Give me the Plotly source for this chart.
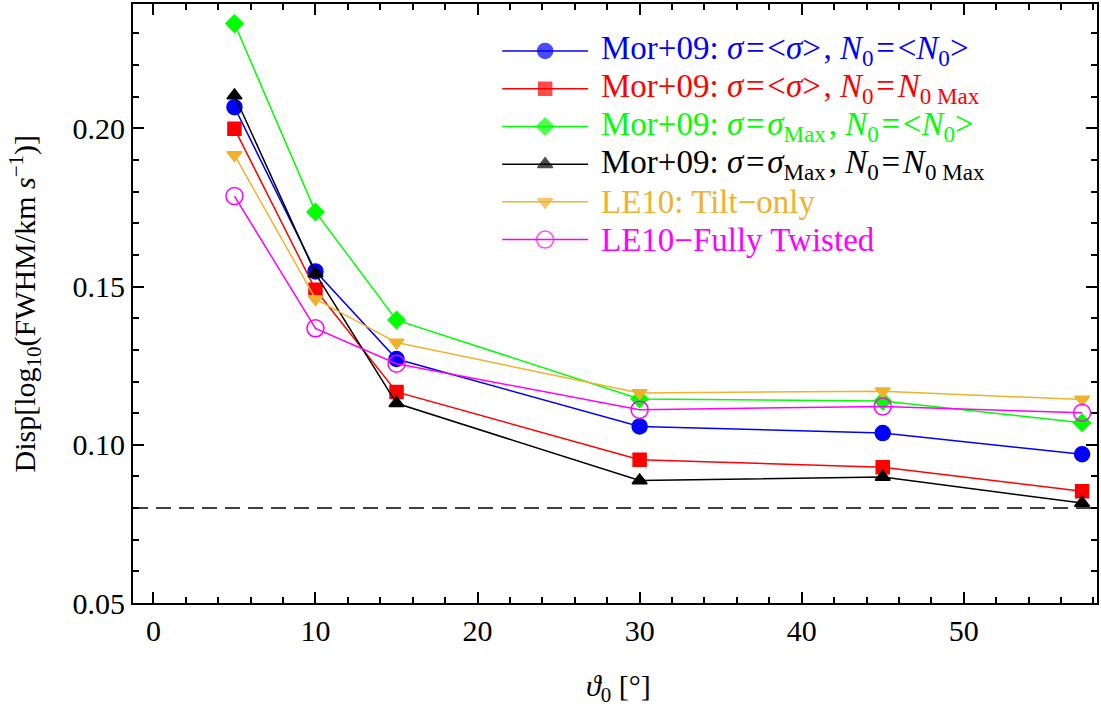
import plotly.graph_objects as go

# Opening angle theta_0 (degrees) at which each model was evaluated
theta0 = [5, 10, 15, 30, 45, 57.3]

# Dispersion of log10(FWHM / km s^-1) for each model
mor_mean_mean = [0.2067, 0.1548, 0.1271, 0.1058, 0.1037, 0.0970]
mor_mean_max = [0.1999, 0.1490, 0.1167, 0.0953, 0.0929, 0.0853]
mor_max_mean = [0.2331, 0.1736, 0.1394, 0.1145, 0.1138, 0.1070]
mor_max_max = [0.2104, 0.1541, 0.1131, 0.0887, 0.0898, 0.0816]
le10_tilt = [0.1916, 0.1461, 0.1323, 0.1164, 0.1169, 0.1143]
le10_twist = [0.1786, 0.1368, 0.1256, 0.1111, 0.1121, 0.1101]

# Observed reference dispersion
observed_disp = 0.08

FONT = "Liberation Serif"
ORANGE = "#EFB22C"

HS = "\u200a"          # hair space used around relation signs
EQ = HS + "=" + HS
CM = HS + ", "

series = [
    dict(y=mor_mean_mean, color="#0000FF", symbol="circle", size=15,
         label=f"Mor+09: <i>σ</i>{EQ}&lt;<i>σ</i>&gt;{CM}<i>N</i><sub>0</sub>{EQ}&lt;<i>N</i><sub>0</sub>&gt;"),
    dict(y=mor_mean_max, color="#FF0000", symbol="square", size=13,
         label=f"Mor+09: <i>σ</i>{EQ}&lt;<i>σ</i>&gt;{CM}<i>N</i><sub>0</sub>{EQ}<i>N</i><sub>0 Max</sub>"),
    dict(y=mor_max_mean, color="#00FF00", symbol="diamond", size=13,
         label=f"Mor+09: <i>σ</i>{EQ}<i>σ</i><sub>Max</sub>{CM}<i>N</i><sub>0</sub>{EQ}&lt;<i>N</i><sub>0</sub>&gt;"),
    dict(y=mor_max_max, color="#000000", symbol="triangle-up", size=13,
         label=f"Mor+09: <i>σ</i>{EQ}<i>σ</i><sub>Max</sub>{CM}<i>N</i><sub>0</sub>{EQ}<i>N</i><sub>0 Max</sub>"),
    dict(y=le10_tilt, color=ORANGE, symbol="triangle-down", size=13,
         label="LE10: Tilt−only"),
    dict(y=le10_twist, color="#FF00FF", symbol="circle-open", size=17,
         label="LE10−Fully Twisted"),
]

fig = go.Figure()

for s in series:
    fig.add_trace(go.Scatter(
        x=theta0, y=s["y"], mode="lines+markers",
        line=dict(color=s["color"], width=1.5),
        marker=dict(symbol=s["symbol"], size=s["size"], color=s["color"],
                    line=dict(color=s["color"], width=1.5)),
        showlegend=False,
    ))

# Dashed horizontal reference level
fig.add_shape(type="line", xref="x domain", yref="y", x0=0, x1=1,
              y0=observed_disp, y1=observed_disp,
              line=dict(color="black", width=1.5, dash="15px,8px"))

# Hand-built legend on a pixel-like overlay axis (long sample lines)
LEG_X0, LEG_X1, LEG_MX, LEG_TX = 503, 589, 546, 600
LEG_Y0, LEG_DY = 50, 37.8
for i, s in enumerate(series):
    ly = LEG_Y0 + i * LEG_DY
    fig.add_trace(go.Scatter(
        x=[LEG_X0, LEG_MX, LEG_X1], y=[ly, ly, ly], mode="lines+markers",
        xaxis="x2", yaxis="y2",
        line=dict(color=s["color"], width=1.5),
        marker=dict(symbol=s["symbol"], size=[0, s["size"], 0], color=s["color"],
                    line=dict(color=s["color"], width=1.5)),
        showlegend=False, hoverinfo="skip",
    ))
    fig.add_annotation(x=LEG_TX, y=ly, xref="x2", yref="y2", text=s["label"],
                       showarrow=False, xanchor="left", yanchor="middle",
                       font=dict(family=FONT, size=33, color=s["color"]))

# Axis titles (paper coordinates so they sit outside the plot area)
fig.add_annotation(x=0.504, y=-0.142, xref="paper", yref="paper",
                   text="<i>ϑ</i><sub>0</sub> [°]", showarrow=False,
                   xanchor="center", yanchor="middle",
                   font=dict(family=FONT, size=30, color="black"))
fig.add_annotation(x=-0.112, y=0.5, xref="paper", yref="paper",
                   text="Disp[log<sub>10</sub>(FWHM/km <i>s</i><sup>−1</sup>)]",
                   showarrow=False, textangle=-90,
                   xanchor="center", yanchor="middle",
                   font=dict(family=FONT, size=30, color="black"))

axis_common = dict(
    showline=True, linewidth=2, linecolor="black", mirror="allticks",
    ticks="inside", ticklen=11, tickwidth=1.5, tickcolor="black",
    showgrid=False, zeroline=False,
    tickfont=dict(family=FONT, size=30, color="black"),
)

fig.update_layout(
    width=1101, height=708,
    margin=dict(l=133, r=2, t=3, b=105),
    paper_bgcolor="white", plot_bgcolor="white",
    xaxis=dict(range=[-1.26, 58.22], tick0=0, dtick=10,
               minor=dict(tick0=0, dtick=2, ticks="inside", ticklen=6,
                          tickwidth=1.5, tickcolor="black"),
               **axis_common),
    yaxis=dict(range=[0.05, 0.2393], tick0=0.05, dtick=0.05, tickformat=".2f",
               minor=dict(tick0=0.05, dtick=0.01, ticks="inside", ticklen=6,
                          tickwidth=1.5, tickcolor="black"),
               **axis_common),
    xaxis2=dict(range=[133, 1099], overlaying="x", anchor="y2", visible=False,
                domain=[0, 1]),
    yaxis2=dict(range=[603, 3], overlaying="y", anchor="x2", visible=False,
                domain=[0, 1]),
)

fig.write_html("out.html")
